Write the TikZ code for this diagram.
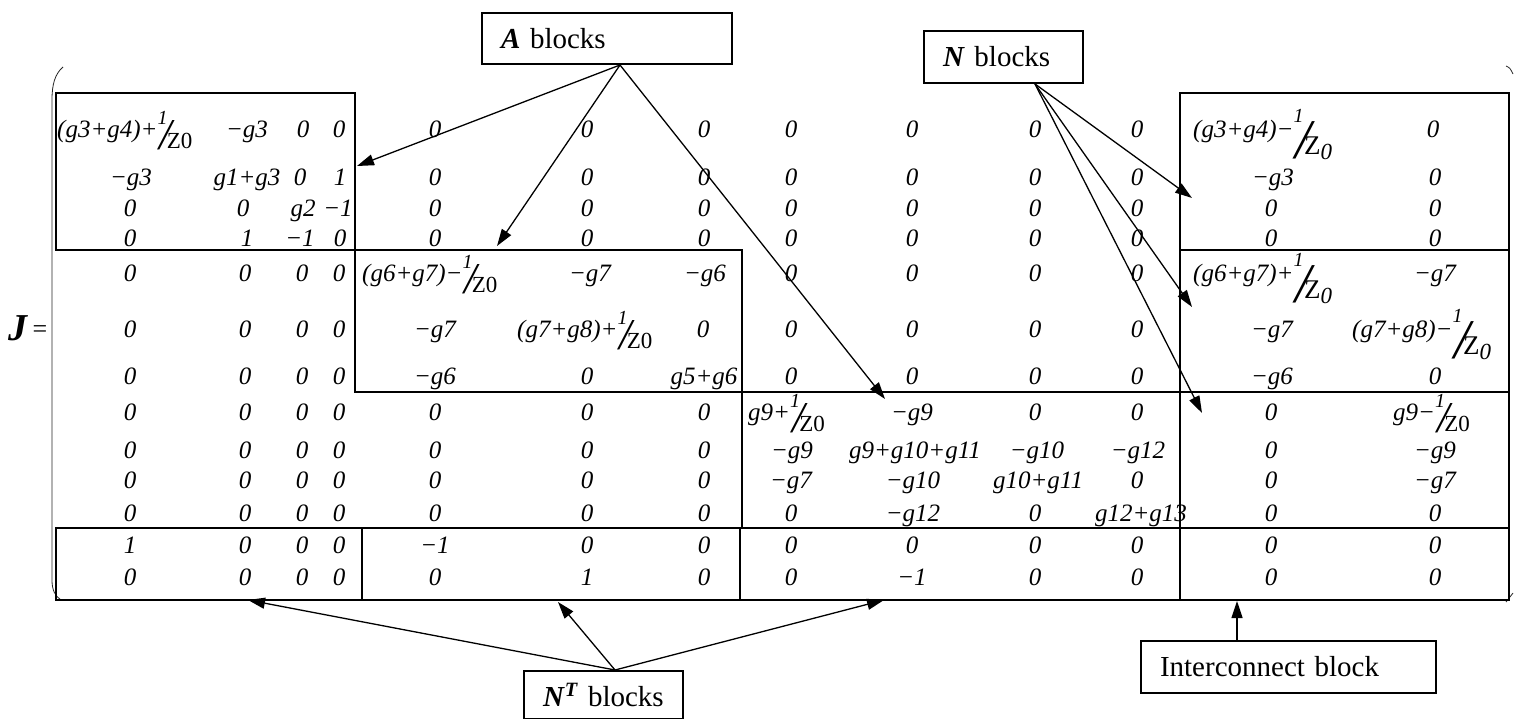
\documentclass[tikz,border=0pt]{standalone}
\usepackage{fontspec}
\setmainfont{Liberation Serif}
\usetikzlibrary{arrows.meta}
\newcommand\fz[1]{\raisebox{13pt}{\fontsize{20}{20}\selectfont\itshape 1}\kern-8pt\raisebox{-12pt}{\fontsize{44}{44}\selectfont\itshape /}\kern-5pt\raisebox{-11pt}{\fontsize{23}{23}\selectfont\upshape #1}}
\newcommand\fzz{\raisebox{15pt}{\fontsize{20}{20}\selectfont\itshape 1}\kern-8pt\raisebox{-21pt}{\fontsize{56}{56}\selectfont\itshape /}\kern-7pt\raisebox{-17pt}{\fontsize{27}{27}\selectfont\upshape Z}\raisebox{-22pt}{\fontsize{23}{23}\selectfont\itshape 0}}
\begin{document}
\begin{tikzpicture}[x=1pt,y=-1pt,
  ent/.style={anchor=base, inner sep=0pt, font=\fontsize{25}{25}\selectfont\itshape},
  entw/.style={ent, anchor=base west},
  blk/.style={line width=2pt},
  lbl/.style={draw, line width=2pt, inner xsep=19pt, inner ysep=0pt, anchor=north west, font=\fontsize{29}{29}\selectfont, align=left},
  arr/.style={line width=1.3pt, -{Triangle[length=17pt,width=11pt]}},
  paren/.style={line width=0.8pt, black!85}]
\useasboundingbox (0,0) rectangle (1514,719);

% label boxes
\node[lbl, text width=212pt, minimum height=51pt] (Abox) at (481,12) {\textbf{\textit{A}} blocks};
\node[lbl, text width=121pt, minimum height=52pt] (Nbox) at (923,30) {\textbf{\textit{N}} blocks};
\node[lbl, text width=121pt, minimum height=48pt] (NTbox) at (523,670) {\textbf{\textit{N}}\textsuperscript{\textbf{\textit{T}}} blocks};
\node[lbl, text width=257pt, minimum height=52pt] (Icbox) at (1140,640) {Interconnect block};

% J =
\node[anchor=base west, inner sep=0pt, font=\fontsize{38}{38}\selectfont\bfseries\itshape] (J) at (8,340) {J};
\node[anchor=base, inner sep=0pt, font=\fontsize{26}{26}\selectfont] (eq) at (40,337) {=};

% parentheses
\draw[paren] (63,67) .. controls (55,74) and (52,84) .. (52,100) -- (52,580) .. controls (52,590) and (55,596) .. (61,600);
\draw[paren] (1506,66) .. controls (1510,68) .. (1513,74);
\draw[paren] (1513,593) .. controls (1510,598) .. (1506,602);

% blocks
\draw[blk] (56,93) rectangle (355,250);
\draw[blk] (355,250) rectangle (742,392);
\draw[blk] (742,392) rectangle (1180,528);
\draw[blk] (1180,93) rectangle (1509,600);
\draw[blk] (1180,250) -- (1509,250) (1180,392) -- (1509,392) (1180,528) -- (1509,528);
\draw[blk] (56,528) rectangle (1180,600);
\draw[blk] (362,528) -- (362,600) (740,528) -- (740,600);

% row 1
\node[entw] (r1a) at (57,138) {(g3+g4)+\fz{Z0}};
\foreach \x/\t [count=\c] in {247/−g3,303/0,339/0,435/0,587/0,704/0,791/0,912/0,1035/0,1137/0,1433/0}
  \node[ent] (r1c\c) at (\x,138) {\t};
\node[entw] (r1b) at (1193,138) {(g3+g4)−\fzz};
% row 2
\foreach \x/\t [count=\c] in {131/−g3,247/g1+g3,300/0,340/1,435/0,587/0,704/0,791/0,912/0,1035/0,1137/0,1273/−g3,1435/0}
  \node[ent] (r2c\c) at (\x,186) {\t};
% row 3
\foreach \x/\t [count=\c] in {130/0,243/0,303/g2,338/−1,435/0,587/0,704/0,791/0,912/0,1035/0,1137/0,1271/0,1435/0}
  \node[ent] (r3c\c) at (\x,217) {\t};
% row 4
\foreach \x/\t [count=\c] in {130/0,247/1,300/−1,340/0,435/0,587/0,704/0,791/0,912/0,1035/0,1137/0,1271/0,1435/0}
  \node[ent] (r4c\c) at (\x,247) {\t};
% row 5
\foreach \x/\t [count=\c] in {130/0,245/0,302/0,339/0,590/−g7,705/−g6,791/0,912/0,1035/0,1137/0,1435/−g7}
  \node[ent] (r5c\c) at (\x,281) {\t};
\node[entw] (r5a) at (362,281) {(g6+g7)−\fz{Z0}};
\node[entw] (r5b) at (1193,281) {(g6+g7)+\fzz};
% row 6
\foreach \x/\t [count=\c] in {130/0,245/0,302/0,339/0,435/−g7,703/0,791/0,912/0,1035/0,1137/0,1272/−g7}
  \node[ent] (r6c\c) at (\x,337) {\t};
\node[entw] (r6a) at (517,337) {(g7+g8)+\fz{Z0}};
\node[entw] (r6b) at (1352,337) {(g7+g8)−\fzz};
% row 7
\foreach \x/\t [count=\c] in {130/0,245/0,302/0,339/0,435/−g6,587/0,704/g5+g6,791/0,912/0,1035/0,1137/0,1272/−g6,1435/0}
  \node[ent] (r7c\c) at (\x,384) {\t};
% row 8
\foreach \x/\t [count=\c] in {130/0,245/0,302/0,339/0,435/0,587/0,704/0,912/−g9,1035/0,1137/0,1271/0}
  \node[ent] (r8c\c) at (\x,420) {\t};
\node[entw] (r8a) at (748,420) {g9+\fz{Z0}};
\node[entw] (r8b) at (1393,420) {g9−\fz{Z0}};
% row 9
\foreach \x/\t [count=\c] in {130/0,245/0,302/0,339/0,435/0,587/0,704/0,792/−g9,915/g9+g10+g11,1037/−g10,1138/−g12,1271/0,1435/−g9}
  \node[ent] (r9c\c) at (\x,458) {\t};
% row 10
\foreach \x/\t [count=\c] in {130/0,245/0,302/0,339/0,435/0,587/0,704/0,791/−g7,913/−g10,1038/g10+g11,1137/0,1271/0,1435/−g7}
  \node[ent] (r10c\c) at (\x,488) {\t};
% row 11
\foreach \x/\t [count=\c] in {130/0,245/0,302/0,339/0,435/0,587/0,704/0,791/0,913/−g12,1035/0,1141/g12+g13,1271/0,1435/0}
  \node[ent] (r11c\c) at (\x,521) {\t};
% row 12
\foreach \x/\t [count=\c] in {130/1,245/0,302/0,339/0,435/−1,587/0,704/0,791/0,912/0,1035/0,1137/0,1271/0,1435/0}
  \node[ent] (r12c\c) at (\x,553) {\t};
% row 13
\foreach \x/\t [count=\c] in {130/0,245/0,302/0,339/0,435/0,587/1,704/0,791/0,912/−1,1035/0,1137/0,1271/0,1435/0}
  \node[ent] (r13c\c) at (\x,585) {\t};

% arrow targets
\coordinate (tA1) at (357,166);
\coordinate (tA2) at (497,246);
\coordinate (tA3) at (885,399);
\coordinate (tN1) at (1192,198);
\coordinate (tN2) at (1192,307);
\coordinate (tN3) at (1202,413);
\coordinate (tT1) at (248,600);
\coordinate (tT2) at (558,602);
\coordinate (tT3) at (884,600);
\coordinate (tI) at (1237,601);

% arrows
\foreach \t in {tA1,tA2,tA3} \draw[arr] ([xshift=139pt]Abox.south west) -- (\t);
\foreach \t in {tN1,tN2,tN3} \draw[arr] ([xshift=112pt]Nbox.south west) -- (\t);
\foreach \t in {tT1,tT2,tT3} \draw[arr] ([xshift=92pt]NTbox.north west) -- (\t);
\draw[arr] ([xshift=97pt]Icbox.north west) -- (tI);
\end{tikzpicture}
\end{document}
